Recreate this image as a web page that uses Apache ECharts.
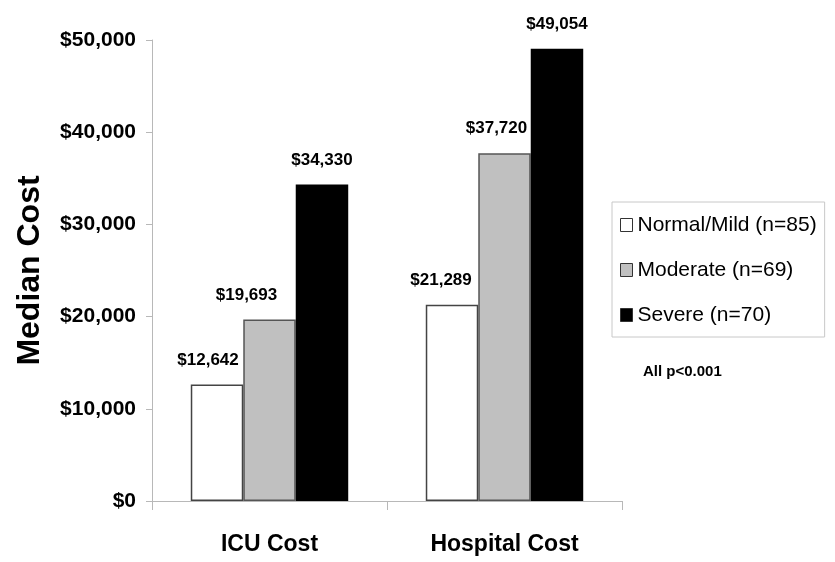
<!DOCTYPE html>
<html>
<head>
<meta charset="utf-8">
<script src="https://cdn.jsdelivr.net/npm/echarts@6/dist/echarts.min.js"></script>
<style>
  html, body { margin: 0; padding: 0; background: #fff; }
  #chart { width: 835px; height: 562px; }
</style>
</head>
<body>
<div id="chart"></div>
<script>
// Median ICU and hospital cost by severity group
const categories = ['ICU Cost', 'Hospital Cost'];
const seriesNames = ['Normal/Mild (n=85)', 'Moderate (n=69)', 'Severe (n=70)'];
const normalMild = [12642, 21289];
const moderate = [19693, 37720];
const severe = [34330, 49054];
const yTicks = [0, 10000, 20000, 30000, 40000, 50000];
const note = 'All p<0.001';

const FONT = '"Liberation Sans", Arial, sans-serif';

function money(v) {
  return '$' + Math.round(v).toLocaleString('en-US');
}

// horizontal nudges for value labels that sit left of their bars
const labelShift = [[-9, -11], [-23, -8], [0, 0]];

function makeData(values, s) {
  return values.map((v, i) => ({
    value: v,
    label: { offset: [labelShift[s][i], 0] }
  }));
}

const styles = [
  { color: '#ffffff', borderColor: '#444444', borderWidth: 1.5 },
  { color: '#c0c0c0', borderColor: '#555555', borderWidth: 1.5 },
  { color: '#000000', borderColor: '#000000', borderWidth: 0 }
];

const chart = echarts.init(document.getElementById('chart'), null, { renderer: 'canvas' });

const option = {
  backgroundColor: '#ffffff',
  animation: false,
  grid: { left: 152, right: 213, top: 40, bottom: 61, containLabel: false, outerBoundsMode: 'none' },
  legend: {
    orient: 'vertical',
    left: 612,
    top: 202,
    padding: [11, 8, 10, 8],
    borderColor: '#c8c8c8',
    borderWidth: 1,
    itemWidth: 12,
    itemHeight: 13,
    itemGap: 21,
    icon: 'rect',
    textStyle: { fontFamily: FONT, fontSize: 21, color: '#000', lineHeight: 24 },
    data: seriesNames.map((n, i) => ({
      name: n,
      itemStyle: { color: styles[i].color, borderColor: '#333', borderWidth: 1 }
    }))
  },
  xAxis: {
    type: 'category',
    data: categories,
    boundaryGap: true,
    axisLine: { show: true, lineStyle: { color: '#b8b8b8', width: 1 } },
    axisTick: { show: true, length: 9, lineStyle: { color: '#b8b8b8' } },
    axisLabel: {
      margin: 32,
      fontFamily: FONT,
      fontSize: 23,
      fontWeight: 'bold',
      color: '#000'
    }
  },
  yAxis: {
    type: 'value',
    min: yTicks[0],
    max: yTicks[yTicks.length - 1],
    interval: yTicks[1] - yTicks[0],
    name: 'Median Cost',
    nameLocation: 'middle',
    nameRotate: 90,
    nameGap: 106,
    nameTextStyle: { fontFamily: FONT, fontSize: 32, fontWeight: 'bold', color: '#000' },
    splitLine: { show: false },
    axisLine: { show: true, lineStyle: { color: '#b8b8b8', width: 1 } },
    axisTick: { show: true, length: 6, lineStyle: { color: '#b8b8b8' } },
    axisLabel: {
      margin: 16,
      fontFamily: FONT,
      fontSize: 21,
      fontWeight: 'bold',
      color: '#000',
      formatter: money
    }
  },
  series: [normalMild, moderate, severe].map((vals, s) => ({
    type: 'bar',
    name: seriesNames[s],
    data: makeData(vals, s),
    barGap: '0%',
    barCategoryGap: '33%',
    itemStyle: styles[s],
    label: {
      show: true,
      position: 'top',
      distance: 16,
      fontFamily: FONT,
      fontSize: 17,
      fontWeight: 'bold',
      color: '#000',
      formatter: p => money(p.value)
    }
  })),
  graphic: [{
    type: 'text',
    left: 643,
    top: 364,
    style: {
      text: note,
      font: 'bold 15px ' + FONT,
      fill: '#000'
    }
  }]
};

chart.setOption(option);
</script>
</body>
</html>
